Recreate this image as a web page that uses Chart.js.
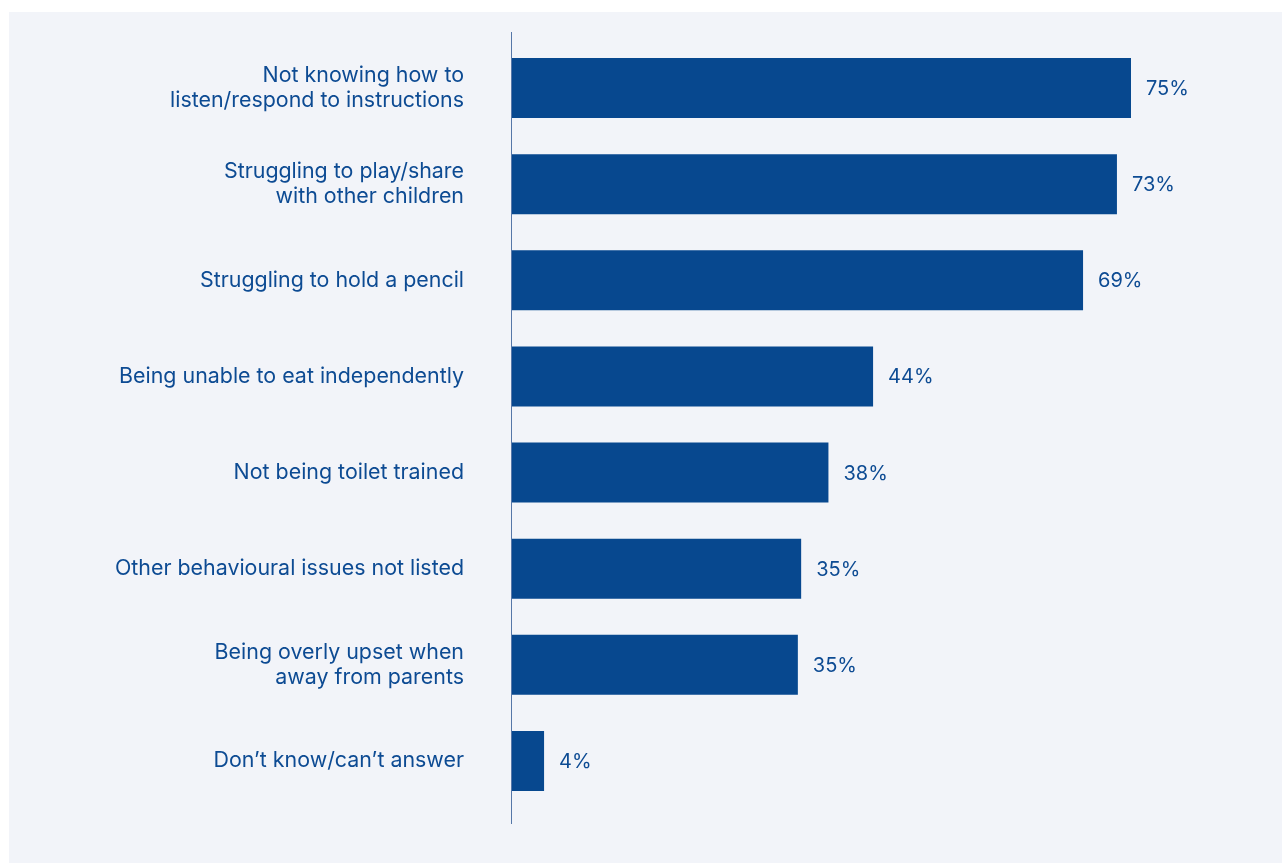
<!DOCTYPE html>
<html>
<head>
<meta charset="utf-8">
<script src="https://cdn.jsdelivr.net/npm/chart.js@4"></script>
<style>
  html, body { margin: 0; padding: 0; background: #ffffff; }
  #panel {
    position: absolute;
    left: 9px;
    top: 12px;
    width: 1273px;
    height: 851px;
    background: #f2f4f9;
  }
</style>
</head>
<body>
<div id="panel"><canvas id="chart" width="1273" height="851"></canvas></div>
<script>
// Categories (top to bottom)
const categories = [
    ['Not knowing how to', 'listen/respond to instructions'],
    ['Struggling to play/share', 'with other children'],
    'Struggling to hold a pencil',
    'Being unable to eat independently',
    'Not being toilet trained',
    'Other behavioural issues not listed',
    ['Being overly upset when', 'away from parents'],
    'Don\u2019t know/can\u2019t answer'
];

// Share of respondents (%)
const shares = [75, 73.3, 69.2, 43.8, 38.4, 35.1, 34.7, 4];

const BLUE = '#07488f';
const TEXT = '#0d4b93';

// Value labels to the right of each bar
const valueLabels = {
    id: 'valueLabels',
    afterDatasetsDraw(chart) {
        const ctx = chart.ctx;
        const meta = chart.getDatasetMeta(0);
        ctx.save();
        ctx.font = '20px Inter';
        ctx.fillStyle = TEXT;
        ctx.textAlign = 'left';
        ctx.textBaseline = 'middle';
        meta.data.forEach((bar, i) => {
            ctx.fillText(Math.round(shares[i]) + '%', bar.x + 15, bar.y + 1);
        });
        ctx.restore();
    }
};

// Vertical baseline at zero, running a little past the bars
const zeroLine = {
    id: 'zeroLine',
    afterDatasetsDraw(chart) {
        const ctx = chart.ctx;
        const area = chart.chartArea;
        const x = Math.round(chart.scales.x.getPixelForValue(0)) + 0.5;
        ctx.save();
        ctx.strokeStyle = '#5677a8';
        ctx.lineWidth = 1;
        ctx.beginPath();
        ctx.moveTo(x, area.top - 8);
        ctx.lineTo(x, area.bottom + 15);
        ctx.stroke();
        ctx.restore();
    }
};

new Chart(document.getElementById('chart'), {
    type: 'bar',
    data: {
        labels: categories,
        datasets: [{
            data: shares,
            backgroundColor: BLUE,
            borderWidth: 0,
            categoryPercentage: 1,
            barPercentage: 0.625
        }]
    },
    options: {
        indexAxis: 'y',
        responsive: false,
        animation: false,
        layout: {
            padding: { top: 28, bottom: 54, left: 0, right: 27 }
        },
        plugins: {
            legend: { display: false },
            tooltip: { enabled: false }
        },
        scales: {
            x: {
                min: 0,
                max: 90,
                display: false
            },
            y: {
                grid: { display: false, drawTicks: false },
                border: { display: false },
                ticks: {
                    color: TEXT,
                    padding: 47,
                    crossAlign: 'near',
                    font: { family: 'Inter', size: 21.4, lineHeight: 1.17 }
                },
                afterFit(scale) {
                    scale.width = 502;
                    scale.paddingTop = 0;
                    scale.paddingBottom = 0;
                }
            }
        }
    },
    plugins: [valueLabels, zeroLine]
});
</script>
</body>
</html>
